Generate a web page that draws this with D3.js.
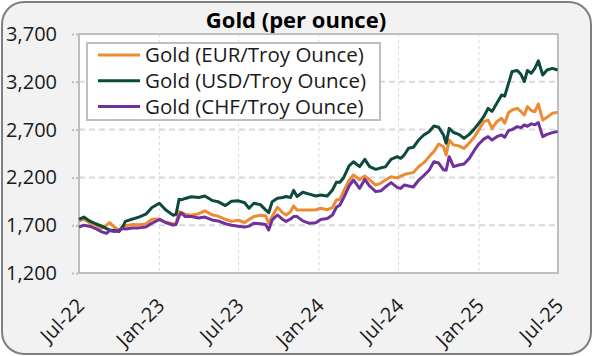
<!DOCTYPE html>
<html>
<head>
<meta charset="utf-8">
<script src="https://cdn.jsdelivr.net/npm/d3@7"></script>
<style>
  html, body { margin: 0; padding: 0; background: #ffffff; }
  svg { display: block; font-family: "Open Sans", "Noto Sans", sans-serif; }
</style>
</head>
<body>
<svg id="chart" width="593" height="356"></svg>
<script>
const title = "Gold (per ounce)";
const seriesNames = ["Gold (EUR/Troy Ounce)", "Gold (USD/Troy Ounce)", "Gold (CHF/Troy Ounce)"];
const seriesColors = ["#ED8B33", "#0B4A3C", "#7030A0"];
const yTicks = [1200, 1700, 2200, 2700, 3200, 3700];
const xTickDates = ["2022-07-01", "2023-01-01", "2023-07-01", "2024-01-01", "2024-07-01", "2025-01-01", "2025-07-01"];

const dates = [
  "2022-07-01","2022-07-12","2022-07-25","2022-08-08","2022-08-22","2022-09-02","2022-09-09","2022-09-20",
  "2022-10-01","2022-10-10","2022-10-15","2022-11-01","2022-11-15","2022-12-01","2022-12-15","2023-01-01",
  "2023-01-15","2023-02-01","2023-02-08","2023-02-15","2023-02-20","2023-03-01","2023-03-15","2023-04-01",
  "2023-04-15","2023-05-01","2023-05-15","2023-06-01","2023-06-15","2023-07-01","2023-07-15","2023-07-25",
  "2023-08-05","2023-08-20","2023-09-01","2023-09-08","2023-09-16","2023-09-28","2023-10-10","2023-10-18",
  "2023-10-28","2023-11-04","2023-11-12","2023-11-25","2023-12-10","2023-12-25","2024-01-05","2024-01-20",
  "2024-02-01","2024-02-10","2024-02-18","2024-02-26","2024-03-10","2024-03-20","2024-04-03","2024-04-15",
  "2024-04-26","2024-05-10","2024-05-22","2024-06-01","2024-06-14","2024-06-28","2024-07-06","2024-07-14",
  "2024-07-24","2024-08-04","2024-08-16","2024-08-28","2024-09-09","2024-09-20","2024-10-01","2024-10-12",
  "2024-10-18","2024-10-25","2024-11-04","2024-11-16","2024-11-28","2024-12-10","2024-12-22","2025-01-01",
  "2025-01-12","2025-01-22","2025-01-31","2025-02-11","2025-02-22","2025-03-01","2025-03-10","2025-03-18",
  "2025-03-30","2025-04-07","2025-04-15","2025-04-22","2025-05-01","2025-05-09","2025-05-17","2025-05-27",
  "2025-06-06","2025-06-18","2025-06-30"
];

const goldEUR = [
  1745,1762,1725,1700,1667,1700,1727,1680,
  1650,1690,1695,1708,1705,1712,1762,1765,
  1730,1712,1718,1842,1830,1815,1805,1820,
  1850,1810,1795,1762,1740,1752,1728,1760,
  1790,1805,1800,1720,1790,1887,1830,1807,
  1840,1900,1858,1858,1858,1862,1877,1862,
  1885,1963,1970,2051,2170,2225,2175,2214,
  2175,2120,2140,2173,2207,2195,2214,2230,
  2242,2250,2312,2354,2417,2470,2549,2520,
  2434,2591,2540,2530,2504,2560,2626,2700,
  2783,2800,2713,2783,2818,2766,2880,2905,
  2922,2890,2853,2940,2900,2887,2968,2800,
  2830,2870,2880
];

const goldUSD = [
  1760,1785,1745,1715,1690,1665,1650,1645,
  1635,1690,1740,1765,1785,1815,1885,1930,
  1862,1805,1812,1971,1965,1980,1998,1990,
  2005,1960,1946,1905,1950,1955,1935,1877,
  1929,1915,1860,1831,1946,1981,1990,2000,
  1990,2065,2000,2045,2025,2005,2015,2005,
  2068,2150,2150,2193,2320,2364,2312,2389,
  2312,2284,2300,2310,2389,2417,2400,2434,
  2504,2515,2591,2644,2678,2738,2725,2644,
  2557,2713,2670,2650,2609,2650,2710,2766,
  2835,2922,2890,2975,3062,3050,3186,3308,
  3319,3280,3203,3319,3290,3341,3420,3271,
  3323,3341,3323
];

const goldCHF = [
  1680,1700,1690,1665,1630,1615,1645,1635,
  1645,1667,1660,1670,1672,1682,1720,1760,
  1728,1702,1708,1795,1831,1790,1790,1775,
  1785,1755,1745,1715,1700,1688,1680,1690,
  1720,1715,1708,1650,1755,1807,1760,1740,
  1765,1790,1790,1745,1720,1725,1760,1770,
  1807,1887,1911,1981,2110,2173,2085,2180,
  2110,2051,2060,2100,2145,2095,2085,2120,
  2110,2100,2170,2220,2275,2364,2350,2280,
  2275,2417,2312,2330,2340,2399,2487,2550,
  2600,2626,2590,2626,2644,2620,2690,2700,
  2731,2720,2748,2735,2760,2750,2773,2626,
  2650,2668,2680
];

const seriesValues = [goldEUR, goldUSD, goldCHF];

const parse = d3.timeParse("%Y-%m-%d");
const fmt = d3.timeFormat("%b-%y");
const W = 593, H = 356;
const plot = { left: 79, right: 558, top: 34, bottom: 273 };
const FONT = "'Open Sans', 'Noto Sans', sans-serif";

const svg = d3.select("#chart");

// outer frame
svg.append("rect")
  .attr("x", 2).attr("y", 2).attr("width", W - 4).attr("height", H - 4)
  .attr("rx", 22).attr("ry", 22)
  .attr("fill", "#f2f2f2").attr("stroke", "#7f7f7f").attr("stroke-width", 2);

const x = d3.scaleTime()
  .domain([parse(xTickDates[0]), parse(xTickDates[xTickDates.length - 1])])
  .range([plot.left, plot.right]);
const y = d3.scaleLinear().domain([yTicks[0], yTicks[yTicks.length - 1]]).range([plot.bottom, plot.top]);

// plot area
svg.append("rect")
  .attr("x", plot.left).attr("y", plot.top)
  .attr("width", plot.right - plot.left).attr("height", plot.bottom - plot.top)
  .attr("fill", "#ffffff");

// vertical grid
svg.append("g").selectAll("line")
  .data(xTickDates.slice(1, -1).map(parse))
  .join("line")
  .attr("x1", d => x(d)).attr("x2", d => x(d))
  .attr("y1", plot.top).attr("y2", plot.bottom)
  .attr("stroke", "#d9d9d9").attr("stroke-width", 1).attr("stroke-dasharray", "3,3");

// horizontal grid
svg.append("g").selectAll("line")
  .data(yTicks.slice(1))
  .join("line")
  .attr("x1", plot.left).attr("x2", plot.right)
  .attr("y1", d => y(d)).attr("y2", d => y(d))
  .attr("stroke", "#d9d9d9").attr("stroke-width", 2).attr("stroke-dasharray", "6,4");

// y axis
const yAxis = svg.append("g")
  .attr("transform", `translate(${plot.left - 1},0)`)
  .call(d3.axisLeft(y).tickValues(yTicks).tickSize(7).tickPadding(14).tickFormat(d3.format(",")));
yAxis.select(".domain").remove();
yAxis.selectAll(".tick line").attr("stroke", "#bfbfbf").attr("stroke-width", 2).attr("stroke-dasharray", "2,2");
yAxis.selectAll(".tick text").attr("font-size", 20).attr("fill", "#1a1a1a")
  .attr("font-family", FONT);

// x axis
const xAxis = svg.append("g")
  .attr("transform", `translate(0,${plot.bottom})`)
  .call(d3.axisBottom(x).tickValues(xTickDates.map(parse)).tickSize(0).tickFormat(fmt));
xAxis.select(".domain").remove();
xAxis.selectAll(".tick text")
  .attr("font-size", 20).attr("fill", "#1a1a1a")
  .attr("font-family", FONT)
  .attr("text-anchor", "end")
  .attr("dy", null).attr("y", 0)
  .attr("transform", "translate(6,34) rotate(-45)");

// plot border
svg.append("rect")
  .attr("x", plot.left).attr("y", plot.top)
  .attr("width", plot.right - plot.left).attr("height", plot.bottom - plot.top)
  .attr("fill", "none").attr("stroke", "#bfbfbf").attr("stroke-width", 2);

// lines
const line = d3.line()
  .x((d, i) => x(parse(dates[i])))
  .y(d => y(d));
const gLines = svg.append("g");
seriesValues.forEach((vals, k) => {
  gLines.append("path")
    .datum(vals)
    .attr("fill", "none")
    .attr("stroke", seriesColors[k])
    .attr("stroke-width", 3)
    .attr("stroke-linejoin", "round")
    .attr("d", line);
});

// legend
const lg = svg.append("g");
lg.append("rect")
  .attr("x", 87).attr("y", 43).attr("width", 293).attr("height", 77)
  .attr("fill", "#ffffff").attr("stroke", "#bfbfbf").attr("stroke-width", 2);
seriesNames.forEach((name, k) => {
  const ly = 55 + k * 25.8;
  lg.append("line")
    .attr("x1", 98).attr("x2", 140).attr("y1", ly).attr("y2", ly)
    .attr("stroke", seriesColors[k]).attr("stroke-width", 3);
  lg.append("text")
    .attr("x", 145).attr("y", ly).attr("dy", "0.35em")
    .attr("font-size", 20.5).attr("fill", "#1a1a1a")
    .text(name);
});

// title
svg.append("text")
  .attr("x", 296).attr("y", 28)
  .attr("text-anchor", "middle")
  .attr("font-size", 22).attr("font-weight", "bold").attr("fill", "#000")
  .text(title);
</script>
</body>
</html>
